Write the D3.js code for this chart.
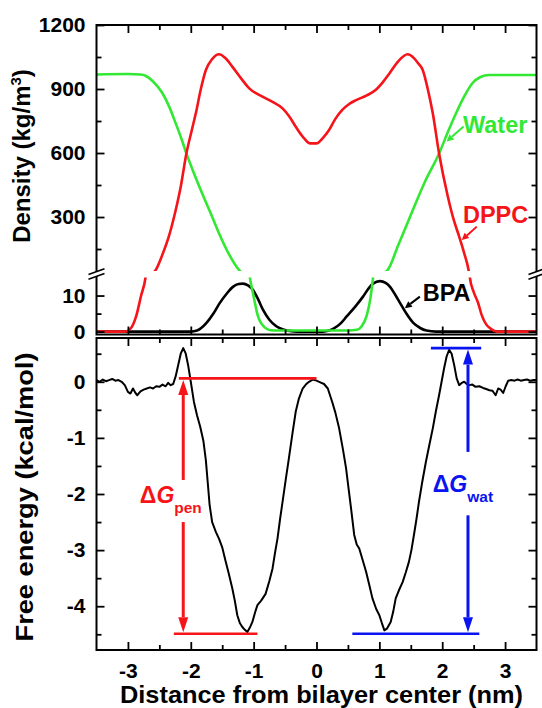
<!DOCTYPE html>
<html><head><meta charset="utf-8">
<script src="https://cdn.jsdelivr.net/npm/d3@7/dist/d3.min.js"></script>
<style>
html,body{margin:0;padding:0;background:#fff;}
svg{display:block;}
text{font-family:"Liberation Sans",Arial,sans-serif;font-weight:bold;}
</style></head>
<body>
<svg id="chart" width="542" height="708"></svg>
<script>
// ---------------- data ----------------
const waterX = [-3.5,-3.0,-2.8,-2.72,-2.6,-2.45,-2.34,-2.24,-2.15,-2.07,-1.95,-1.82,-1.68,-1.55,-1.4,-1.23,-1.15,-1.06,-1.01,-0.93,-0.82,-0.73,-0.6,0.5,0.64,0.72,0.8,0.86,0.9,1.0,1.13,1.3,1.5,1.72,1.95,2.1,2.22,2.35,2.48,2.6,2.75,3.0,3.5];
const waterY = [968,970,968,962,935,880,815,739,668,598,505,411,315,223,130,51,30,15,10.6,4.2,1.1,0.4,0.3,0.3,0.5,1.5,4.5,9.5,15,30,51,168,310,462,598,705,786,865,927,955,966,966,966];

const dppcX = [-3.5,-3.05,-2.95,-2.87,-2.79,-2.72,-2.64,-2.56,-2.45,-2.35,-2.25,-2.16,-2.07,-1.99,-1.92,-1.84,-1.76,-1.66,-1.55,-1.45,-1.34,-1.2,-1.07,-0.86,-0.7,-0.54,-0.43,-0.33,-0.2,-0.1,0,0.1,0.2,0.3,0.41,0.52,0.63,0.8,0.94,1.05,1.16,1.3,1.45,1.55,1.62,1.69,1.77,1.85,1.95,2.09,2.18,2.27,2.35,2.42,2.44,2.5,2.57,2.63,2.7,2.78,2.87,3.5];
const dppcY = [0,0,1,4.2,10,15,30,51,125,208,320,442,598,700,786,900,989,1040,1063,1045,1005,950,903,864,840,809,770,723,670,645,645,670,708,760,802,830,848,870,895,930,973,1030,1063,1045,1020,989,900,786,598,395,290,208,130,51,15,11,8,4.5,2,0.7,0,0];

const bpaX = [-3.5,-2.0,-1.9,-1.75,-1.64,-1.54,-1.43,-1.33,-1.24,-1.17,-1.09,-1.01,-0.93,-0.85,-0.75,-0.64,-0.53,-0.43,-0.3,0.1,0.2,0.27,0.38,0.48,0.62,0.74,0.83,0.9,1.01,1.1,1.17,1.25,1.33,1.43,1.54,1.65,1.75,1.9,3.5];
const bpaY = [0,0,0.3,2.4,5,7.9,10.5,12.4,13.2,13.3,12.8,11.5,9,6,3.3,1.5,0.6,0.2,0,0,0.3,0.8,2.2,4.2,7,9.7,12,13.3,14,13.5,12.4,10.3,7.9,5,2.4,1,0.3,0,0];

const feX = [-3.5,-3.45,-3.4,-3.35,-3.3,-3.25,-3.2,-3.15,-3.1,-3.05,-3.0,-2.96,-2.92,-2.88,-2.85,-2.8,-2.75,-2.7,-2.65,-2.6,-2.55,-2.5,-2.45,-2.4,-2.36,-2.32,-2.28,-2.24,-2.2,-2.16,-2.12,-2.08,-2.04,-2.0,-1.95,-1.9,-1.85,-1.8,-1.76,-1.73,-1.7,-1.66,-1.6,-1.55,-1.5,-1.45,-1.4,-1.34,-1.3,-1.26,-1.22,-1.18,-1.14,-1.1,-1.06,-1.02,-0.98,-0.94,-0.88,-0.81,-0.75,-0.7,-0.66,-0.62,-0.58,-0.54,-0.49,-0.44,-0.38,-0.33,-0.28,-0.22,-0.17,-0.12,-0.06,0,0.06,0.12,0.18,0.25,0.3,0.36,0.42,0.47,0.51,0.55,0.6,0.64,0.68,0.74,0.79,0.84,0.89,0.95,1.0,1.04,1.08,1.12,1.18,1.22,1.26,1.31,1.37,1.42,1.47,1.51,1.55,1.59,1.63,1.68,1.74,1.8,1.85,1.9,1.95,1.99,2.03,2.07,2.11,2.15,2.19,2.23,2.27,2.31,2.35,2.39,2.43,2.48,2.53,2.59,2.65,2.7,2.75,2.8,2.85,2.89,2.93,2.97,3.01,3.05,3.1,3.15,3.2,3.25,3.3,3.35,3.4,3.45,3.5];
const feY = [0.03,0.0,0.04,0.01,0.03,0.05,0.02,0.03,0.0,-0.06,-0.18,-0.21,-0.12,-0.2,-0.24,-0.17,-0.14,-0.12,-0.1,-0.12,-0.08,-0.09,-0.05,-0.08,-0.02,-0.06,-0.04,0.1,0.3,0.5,0.6,0.5,0.28,0.0,-0.36,-0.6,-0.8,-1.05,-1.4,-1.8,-2.2,-2.5,-2.68,-2.8,-2.95,-3.18,-3.4,-3.68,-3.9,-4.16,-4.3,-4.37,-4.42,-4.46,-4.38,-4.28,-4.12,-3.98,-3.9,-3.78,-3.55,-3.33,-3.05,-2.79,-2.45,-2.14,-1.75,-1.37,-0.9,-0.53,-0.3,-0.12,-0.05,0.0,0.04,0.02,-0.01,-0.04,-0.12,-0.36,-0.55,-0.83,-1.2,-1.54,-1.9,-2.26,-2.73,-2.9,-2.97,-3.2,-3.39,-3.62,-3.86,-4.05,-4.16,-4.3,-4.43,-4.4,-4.28,-4.1,-3.86,-3.72,-3.57,-3.4,-3.21,-3.0,-2.73,-2.45,-2.14,-1.8,-1.43,-1.1,-0.83,-0.52,-0.24,0.0,0.24,0.45,0.57,0.5,0.3,0.06,-0.06,-0.02,0.0,-0.04,-0.06,-0.05,-0.09,-0.08,-0.11,-0.13,-0.15,-0.16,-0.24,-0.12,-0.14,-0.2,-0.08,0.02,0.03,0.02,0.04,0.02,0.03,0.04,0.02,0.03,0.03];

// tick values / labels
const xMajor = [-3,-2,-1,0,1,2,3];
const xLabels = ["-3","-2","-1","0","1","2","3"];
const xMinor = [-2.5,-1.5,-0.5,0.5,1.5,2.5];
const yUpMajor = [300,600,900,1200];
const yUpLabels = ["300","600","900","1200"];
const yUpMinor = [150,450,750,1050];
const yLoMajor = [0,10];
const yLoLabels = ["0","10"];
const yLoMinor = [5];
const yBMajor = [0,-1,-2,-3,-4];
const yBLabels = ["0","-1","-2","-3","-4"];
const yBMinor = [0.5,-0.5,-1.5,-2.5,-3.5,-4.5];

// annotation values (data units)
const penTop = 0.06, penBottom = -4.49, penX = -2.12, penTopSpan = [-2.19, 0], penBotSpan = [-2.27, -0.94], penGap = [-1.75, -2.5];
const watTop = 0.6, watBottom = -4.49, watX = 2.41, watTopSpan = [1.82, 2.62], watBotSpan = [0.57, 2.59], watGap = [-1.25, -2.38];

// ---------------- layout ----------------
const svg = d3.select("#chart");
const L = 96.5, R = 536.5;
const topT = 25, topB = 334.5, brkU = 271, brkL = 277.5;
const botT = 338, botB = 650;

const x = d3.scaleLinear().domain([-3.5,3.5]).range([L,R]);
const yU = d3.scaleLinear().domain([47,1200]).range([brkU,topT]);
const yL = d3.scaleLinear().domain([-0.8,15]).range([topB,brkL]);
const yB = d3.scaleLinear().domain([-4.78,0.78]).range([botB,botT]);

const RED = "#f5141a", GREEN = "#33e833", BLUE = "#0a14f0";

const defs = svg.append("defs");
defs.append("clipPath").attr("id","clipU").append("rect").attr("x",L).attr("y",topT).attr("width",R-L).attr("height",brkU-topT);
defs.append("clipPath").attr("id","clipL").append("rect").attr("x",L).attr("y",brkL).attr("width",R-L).attr("height",topB-brkL);
defs.append("clipPath").attr("id","clipB").append("rect").attr("x",L).attr("y",botT).attr("width",R-L).attr("height",botB-botT);

function zip(xs, ys){ return xs.map((v,i)=>[v, ys[i]]); }
const water = zip(waterX, waterY), dppc = zip(dppcX, dppcY), bpa = zip(bpaX, bpaY), fe = zip(feX, feY);

// density curves: drawn with each segment's scale, clipped to that segment
const series = [{d:bpa,c:"#000"},{d:water,c:GREEN},{d:dppc,c:RED}];
[["clipU",yU],["clipL",yL]].forEach(([cid, ys])=>{
  const g = svg.append("g").attr("clip-path",`url(#${cid})`);
  const line = d3.line().x(d=>x(d[0])).y(d=>ys(d[1])).curve(d3.curveMonotoneX);
  series.forEach(s=>{
    if (cid==="clipU" && s.d===bpa) return;
    g.append("path").attr("d",line(s.d)).attr("fill","none").attr("stroke",s.c).attr("stroke-width",2.6).attr("stroke-linejoin","round");
  });
});

// free energy
svg.append("g").attr("clip-path","url(#clipB)").append("path")
  .attr("d", d3.line().x(d=>x(d[0])).y(d=>yB(d[1]))(fe))
  .attr("fill","none").attr("stroke","#000").attr("stroke-width",2).attr("stroke-linejoin","round");

// ---------------- axes ----------------
function styleAxis(g, fs){
  g.select(".domain").remove();
  g.selectAll(".tick line").attr("stroke","#000").attr("stroke-width",1.8);
  g.selectAll(".tick text").attr("fill","#000").style("font-size",fs+"px").style("font-family",'"Liberation Sans",Arial,sans-serif').style("font-weight","bold");
}
function ax(gen, tx, ty, fs){
  const g = svg.append("g").attr("transform",`translate(${tx},${ty})`).call(gen);
  styleAxis(g, fs||21);
  return g;
}
const fmt = (vals, labs) => (d => labs[vals.indexOf(d)]);
// left axes
ax(d3.axisLeft(yU).tickValues(yUpMajor).tickSize(-8).tickPadding(11).tickFormat(fmt(yUpMajor,yUpLabels)), L, 0);
ax(d3.axisLeft(yU).tickValues(yUpMinor).tickSize(-5).tickFormat(""), L, 0);
ax(d3.axisLeft(yL).tickValues(yLoMajor).tickSize(-8).tickPadding(11).tickFormat(fmt(yLoMajor,yLoLabels)), L, 0);
ax(d3.axisLeft(yL).tickValues(yLoMinor).tickSize(-5).tickFormat(""), L, 0);
ax(d3.axisLeft(yB).tickValues(yBMajor).tickSize(-8).tickPadding(11).tickFormat(fmt(yBMajor,yBLabels)), L, 0);
ax(d3.axisLeft(yB).tickValues(yBMinor).tickSize(-5).tickFormat(""), L, 0);
// right axes
[[yU,yUpMajor,yUpMinor],[yL,yLoMajor,yLoMinor],[yB,yBMajor,yBMinor]].forEach(([s,maj,min])=>{
  ax(d3.axisRight(s).tickValues(maj).tickSize(-8).tickFormat(""), R, 0);
  ax(d3.axisRight(s).tickValues(min).tickSize(-5).tickFormat(""), R, 0);
});
// horizontal axes
ax(d3.axisBottom(x).tickValues(xMajor).tickSize(-8).tickPadding(13).tickFormat(fmt(xMajor,xLabels)), 0, botB);
ax(d3.axisBottom(x).tickValues(xMinor).tickSize(-5).tickFormat(""), 0, botB);
[[d3.axisTop, topT],[d3.axisBottom, topB],[d3.axisTop, botT]].forEach(([f,yy])=>{
  ax(f(x).tickValues(xMajor).tickSize(-8).tickFormat(""), 0, yy);
  ax(f(x).tickValues(xMinor).tickSize(-5).tickFormat(""), 0, yy);
});

// frames
svg.append("rect").attr("x",L).attr("y",topT).attr("width",R-L).attr("height",topB-topT).attr("fill","none").attr("stroke","#000").attr("stroke-width",2);
svg.append("rect").attr("x",L).attr("y",botT).attr("width",R-L).attr("height",botB-botT).attr("fill","none").attr("stroke","#000").attr("stroke-width",2);

// axis breaks
[L, R].forEach(ax0=>{
  const c = (brkU+brkL)/2;
  const g = svg.append("g");
  g.append("polygon").attr("points",`${ax0-7},${c+4.6} ${ax0+7},${c-0.4} ${ax0+7},${c-5.2} ${ax0-7},${c-0.2}`).attr("fill","#fff");
  g.append("line").attr("x1",ax0-8).attr("y1",c+0.2).attr("x2",ax0+8).attr("y2",c-5.6).attr("stroke","#000").attr("stroke-width",1.6);
  g.append("line").attr("x1",ax0-8).attr("y1",c+5.0).attr("x2",ax0+8).attr("y2",c-0.8).attr("stroke","#000").attr("stroke-width",1.6);
});

// ---------------- labels ----------------
function arrow(g, x1,y1,x2,y2,color,w,hl,hw){
  const a = Math.atan2(y2-y1,x2-x1);
  const bx = x2 - hl*Math.cos(a), by = y2 - hl*Math.sin(a);
  g.append("line").attr("x1",x1).attr("y1",y1).attr("x2",bx).attr("y2",by).attr("stroke",color).attr("stroke-width",w);
  const px = -Math.sin(a)*hw/2, py = Math.cos(a)*hw/2;
  g.append("polygon").attr("points",`${x2},${y2} ${bx+px},${by+py} ${bx-px},${by-py}`).attr("fill",color);
}
const lab = svg.append("g");
lab.append("text").attr("x",x(2.33)).attr("y",yU(694)).attr("fill",GREEN).style("font-size","23.5px").text("Water");
arrow(lab, x(2.34), yU(724), x(2.07), yU(654), GREEN, 2, 7, 7);
lab.append("text").attr("x",x(2.33)).attr("y",yU(272)).attr("fill",RED).style("font-size","23.5px").text("DPPC");
arrow(lab, x(2.55), yU(255), x(2.31), yU(192), RED, 2, 7, 7);
lab.append("text").attr("x",x(1.69)).attr("y",yL(8.5)).attr("fill","#000").style("font-size","23.5px").text("BPA");
arrow(lab, x(1.645), yL(9.7), x(1.405), yL(6.5), "#000", 2, 7, 7);

// delta G annotations
function dG(color, vx, top, bot, topSpan, botSpan, gap, lx, ly, sub){
  const g = svg.append("g");
  g.append("line").attr("x1",x(topSpan[0])).attr("x2",x(topSpan[1])).attr("y1",yB(top)).attr("y2",yB(top)).attr("stroke",color).attr("stroke-width",2.6);
  g.append("line").attr("x1",x(botSpan[0])).attr("x2",x(botSpan[1])).attr("y1",yB(bot)).attr("y2",yB(bot)).attr("stroke",color).attr("stroke-width",2.6);
  arrow(g, x(vx), yB(gap[0]), x(vx), yB(top)+1.5, color, 3, 15, 10);
  arrow(g, x(vx), yB(gap[1]), x(vx), yB(bot)-1.5, color, 3, 15, 10);
  const t = g.append("text").attr("x",x(lx)).attr("y",yB(ly)).attr("fill",color).style("font-size","23px");
  t.append("tspan").text("Δ");
  t.append("tspan").style("font-style","italic").text("G");
  t.append("tspan").attr("dy",10).style("font-size","15.5px").text(sub);
}
dG(RED, penX, penTop, penBottom, penTopSpan, penBotSpan, penGap, -2.81, -2.16, "pen");
dG(BLUE, watX, watTop, watBottom, watTopSpan, watBotSpan, watGap, 1.85, -1.97, "wat");

// axis titles
svg.append("text").attr("transform","translate(30,156) rotate(-90)").attr("text-anchor","middle").style("font-size","24px")
  .call(t=>{ t.append("tspan").text("Density (kg/m"); t.append("tspan").attr("dy",-9).style("font-size","15px").text("3"); t.append("tspan").attr("dy",9).text(")"); });
svg.append("text").attr("transform","translate(33,497) rotate(-90)").attr("text-anchor","middle").style("font-size","24px")
  .attr("textLength",289).attr("lengthAdjust","spacingAndGlyphs").text("Free energy (kcal/mol)");
svg.append("text").attr("x",321.5).attr("y",703).attr("text-anchor","middle").style("font-size","24px")
  .attr("textLength",403).attr("lengthAdjust","spacingAndGlyphs").text("Distance from bilayer center (nm)");
</script>
</body></html>
